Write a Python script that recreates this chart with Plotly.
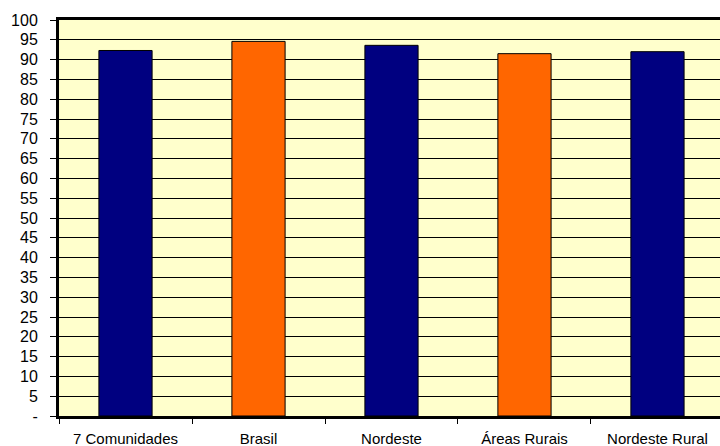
import plotly.graph_objects as go

categories = ["7 Comunidades", "Brasil", "Nordeste", "Áreas Rurais", "Nordeste Rural"]
values = [92.3, 94.6, 93.6, 91.5, 92.0]
bar_colors = ["#000080", "#FF6600", "#000080", "#FF6600", "#000080"]
y_tickvals = list(range(0, 101, 5))
y_ticktext = ["-"] + [str(v) for v in y_tickvals[1:]]

fig = go.Figure()
fig.add_trace(go.Bar(
    x=categories, y=values,
    marker=dict(color=bar_colors, line=dict(color="#000000", width=1)),
    hoverinfo="skip",
))

font = dict(family="Liberation Sans, Arial, sans-serif", color="#000000")

fig.update_layout(
    width=720, height=446,
    margin=dict(l=59, r=0, t=20, b=30, autoexpand=False),
    paper_bgcolor="#FFFFFF",
    plot_bgcolor="#FFFFCC",
    bargap=0.6,
    showlegend=False,
    font=dict(size=15, **font),
    xaxis=dict(
        type="category",
        range=[-0.5, 4.47],
        tickson="boundaries",
        ticks="outside", ticklen=5, tickwidth=1, tickcolor="#000000",
        showline=True, linecolor="#000000", linewidth=3, mirror=True,
        showgrid=False, zeroline=False,
        tickfont=dict(size=15, **font),
        ticklabelstandoff=7,
        automargin=False,
    ),
    yaxis=dict(
        range=[0, 100],
        tickvals=y_tickvals, ticktext=y_ticktext,
        ticks="outside", ticklen=6, tickwidth=1, tickcolor="#000000",
        showline=True, linecolor="#000000", linewidth=3,
        showgrid=True, gridcolor="#000000", gridwidth=1,
        zeroline=False,
        tickfont=dict(size=16, **font),
        ticklabelstandoff=9,
        automargin=False,
    ),
)

fig.write_html(
    "out.html",
    config={"displayModeBar": False, "staticPlot": True},
    post_script="document.body.style.margin='0';document.body.style.overflow='hidden';",
)
